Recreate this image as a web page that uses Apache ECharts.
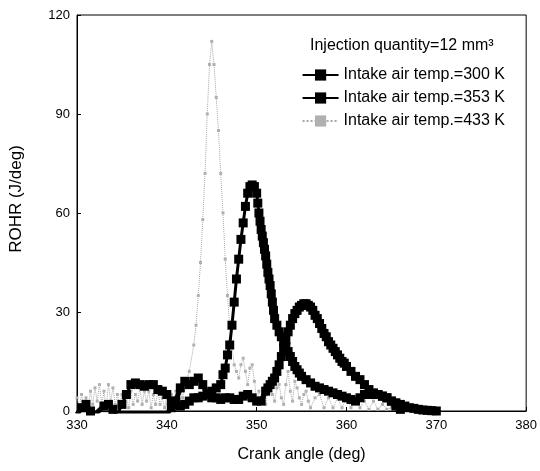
<!DOCTYPE html>
<html>
<head>
<meta charset="utf-8">
<script src="https://cdn.jsdelivr.net/npm/echarts@6/dist/echarts.min.js"></script>
<style>
  html, body { margin: 0; padding: 0; background: #fff; }
  #rohr { width: 540px; height: 471px; }
</style>
</head>
<body>
<div id="rohr"></div>
<script>
// 曲轴转角与放热率数据
var xTicks = [330, 340, 350, 360, 370, 380];
var yTicks = [0, 30, 60, 90, 120];

var angle300 = [330, 330.5, 331, 331.5, 332, 333, 333.5, 334, 334.5, 340, 340.5, 341, 341.5, 342, 342.5, 343, 343.5, 344, 344.5, 345, 345.5, 346, 346.5, 347, 347.5, 348, 348.5, 349, 349.5, 350, 350.5, 351, 351.25, 351.5, 351.75, 352, 352.25, 352.5, 352.75, 353, 353.25, 353.5, 353.75, 354, 354.25, 354.5, 354.75, 355, 355.25, 355.5, 355.75, 356, 356.25, 356.5, 356.75, 357, 357.25, 357.5, 357.75, 358, 358.25, 358.5, 358.75, 359, 359.25, 359.5, 359.75, 360, 360.5, 361, 361.5, 362, 362.5, 363, 363.5, 364, 364.5, 365, 365.5, 366, 366.5, 367, 367.5, 368, 368.5, 369, 369.5, 370];
var rohr300 = [-1, 1, 2, 0, -1, 1.5, 2, 0.5, -1, -1, 1, 3, 7, 9, 8, 9, 10, 8, 5, 4, 4, 3.5, 4, 4, 3.5, 3.5, 4.5, 5, 4, 3, 3, 6, 7, 8, 9, 10, 12, 14, 16.5, 19, 21.5, 24, 26, 28, 29.5, 30.5, 31.5, 32, 32.5, 32.5, 32, 31.5, 30.5, 29, 28, 26.5, 25, 23.5, 22.5, 21, 20, 19, 18, 17, 16, 15, 14.5, 13.5, 12, 10.5, 9.5, 8, 6.5, 5.5, 5, 4.5, 4, 3, 2.5, 2, 1.5, 1, 0.8, 0.5, 0.3, 0.2, 0.1, 0];

var angle353 = [330, 334.5, 335, 335.5, 336, 336.5, 337, 337.5, 338, 338.5, 339, 339.5, 340, 340.5, 341, 341.5, 342, 342.5, 343, 343.5, 344, 344.5, 345, 345.5, 346, 346.25, 346.5, 346.75, 347, 347.25, 347.5, 347.75, 348, 348.25, 348.5, 348.75, 349, 349.25, 349.5, 349.75, 350, 350.125, 350.25, 350.375, 350.5, 350.625, 350.75, 350.875, 351, 351.125, 351.25, 351.375, 351.5, 351.625, 351.75, 351.875, 352, 352.25, 352.5, 352.75, 353, 353.25, 353.5, 353.75, 354, 354.25, 354.5, 354.75, 355, 355.5, 356, 356.5, 357, 357.5, 358, 358.5, 359, 359.5, 360, 360.5, 361, 361.5, 362, 362.5, 363, 363.5, 364, 364.5, 365, 365.5, 366];
var rohr353 = [-1, -1, 2, 5, 8, 8.5, 8, 7.5, 8, 8, 6.5, 6, 5, 3, 2, 1.5, 2, 3, 4, 4, 4.5, 5, 6, 7, 8, 11, 13, 17, 20, 26, 33, 40, 46, 52, 57, 62, 66, 68, 68.5, 68, 66, 63, 60, 57.5, 55, 53, 51, 49, 47, 44.5, 42, 40, 38, 35.5, 33, 30.5, 28, 26, 24, 22.5, 21, 19.5, 18, 16.5, 15, 13.5, 12.5, 11.5, 10.5, 9.5, 8.5, 7.5, 7, 6.5, 6, 5.5, 5, 4.5, 4, 3.5, 3, 4, 5, 5, 5, 5, 4.5, 4, 3, 1.5, 0.5, 0];

var angle433 = [330, 330.25, 330.5, 330.75, 331, 331.25, 331.5, 331.75, 332, 332.25, 332.5, 332.75, 333, 333.25, 333.5, 333.75, 334, 334.25, 334.5, 334.75, 335, 335.25, 335.5, 335.75, 336, 336.25, 336.5, 336.75, 337, 337.25, 337.5, 337.75, 338, 338.25, 338.5, 338.75, 339, 339.25, 339.5, 339.75, 340, 340.25, 340.5, 340.75, 341, 341.25, 341.5, 341.75, 342, 342.5, 343, 343.25, 343.5, 343.75, 344, 344.25, 344.5, 344.75, 345, 345.25, 345.5, 345.75, 346, 346.25, 346.5, 346.75, 347, 347.25, 347.5, 347.75, 348, 348.25, 348.5, 348.75, 349, 349.25, 349.5, 349.75, 350, 350.25, 350.5, 350.75, 351, 351.25, 351.5, 351.75, 352, 352.25, 352.5, 352.75, 353, 353.25, 353.5, 353.75, 354, 354.25, 354.5, 354.75, 355, 355.25, 355.5, 355.75, 356, 356.5, 357, 357.5, 358, 358.5, 359, 359.5, 360, 360.5, 361, 361.5, 362, 362.5, 363, 363.5, 364, 364.5, 365];
var rohr433 = [4, 1, 5, 2, 4, 1, 6, 2, 7, 3, 8, 2, 6, 1, 8, 3, 7, 2, 5, 1, 5, 2, 4, 1, 6, 2, 5, 3, 7, 2, 6, 3, 6, 1, 5, 2, 6, 2, 4, 1, 5, 2, 5, 3, 6, 2, 7, 4, 8, 12, 20, 26, 35, 45, 58, 72, 90, 105, 112, 105, 95, 85, 72, 60, 46, 35, 26, 20, 14, 12, 10, 14, 16, 12, 8, 13, 14, 9, 3, 6, 4, 7, 2, 6, 9, 5, 3, 7, 8, 4, 2, 8, 12, 6, 3, 9, 7, 4, 2, 5, 6, 3, 1, 4, 5, 1, 4, 1, 4, 1, 4, 1, 3, 1, 3, 0.5, 3, 0.5, 2, 0.5, 1, 0];

var seriesNames = ['Intake air temp.=300 K', 'Intake air temp.=353 K', 'Intake air temp.=433 K'];
var injectionLabel = 'Injection quantity=12 mm³';

function pairs(xs, ys) {
    return xs.map(function (x, i) { return [x, ys[i]]; });
}

var myChart = echarts.init(document.getElementById('rohr'));

var axisFont = { color: '#000', fontSize: 13, fontFamily: 'Liberation Sans' };

var option = {
    backgroundColor: '#fff',
    animation: false,
    grid: {
        left: 72,
        right: 10,
        top: 15,
        bottom: 60,
        show: true,
        borderColor: '#000',
        borderWidth: 1
    },
    graphic: [{
        type: 'text',
        left: 310,
        top: 38,
        style: {
            text: injectionLabel,
            fill: '#000',
            font: '16px "Liberation Sans"'
        }
    }],
    legend: {
        data: seriesNames,
        orient: 'vertical',
        right: 30,
        top: 62,
        itemGap: 7,
        itemWidth: 36,
        itemHeight: 14,
        textStyle: {
            color: '#000',
            fontSize: 16,
            fontFamily: 'Liberation Sans'
        }
    },
    xAxis: {
        type: 'value',
        min: 330,
        max: 380,
        interval: 10,
        name: 'Crank angle (deg)',
        nameLocation: 'middle',
        nameGap: 36,
        nameTextStyle: { color: '#000', fontSize: 16, fontFamily: 'Liberation Sans' },
        axisLine: { show: true, lineStyle: { color: '#000', width: 1 } },
        axisTick: { show: true, inside: true, length: 4, lineStyle: { color: '#000' } },
        axisLabel: Object.assign({ margin: 8 }, axisFont),
        splitLine: { show: false }
    },
    yAxis: {
        type: 'value',
        min: 0,
        max: 120,
        interval: 30,
        name: 'ROHR (J/deg)',
        nameLocation: 'middle',
        nameGap: 52,
        nameTextStyle: { color: '#000', fontSize: 17, fontFamily: 'Liberation Sans', padding: [0, 0, 0, 28] },
        axisLine: { show: true, lineStyle: { color: '#000', width: 1 } },
        axisTick: { show: true, inside: true, length: 4, lineStyle: { color: '#000' } },
        axisLabel: Object.assign({ margin: 7 }, axisFont),
        splitLine: { show: false }
    },
    series: [
        {
            name: seriesNames[0],
            type: 'line',
            z: 4,
            data: pairs(angle300, rohr300),
            showAllSymbol: true,
            symbol: 'rect',
            symbolSize: 9,
            lineStyle: { color: '#000', width: 5 },
            itemStyle: { color: '#000' }
        },
        {
            name: seriesNames[1],
            type: 'line',
            z: 3,
            data: pairs(angle353, rohr353),
            showAllSymbol: true,
            symbol: 'rect',
            symbolSize: 9,
            lineStyle: { color: '#000', width: 3 },
            itemStyle: { color: '#000' }
        },
        {
            name: seriesNames[2],
            type: 'line',
            z: 2,
            data: pairs(angle433, rohr433),
            showAllSymbol: true,
            symbol: 'rect',
            symbolSize: 3,
            lineStyle: { color: '#a8a8a8', width: 1, type: 'dotted' },
            itemStyle: { color: '#b0b0b0' }
        }
    ]
};

myChart.setOption(option);
</script>
</body>
</html>
